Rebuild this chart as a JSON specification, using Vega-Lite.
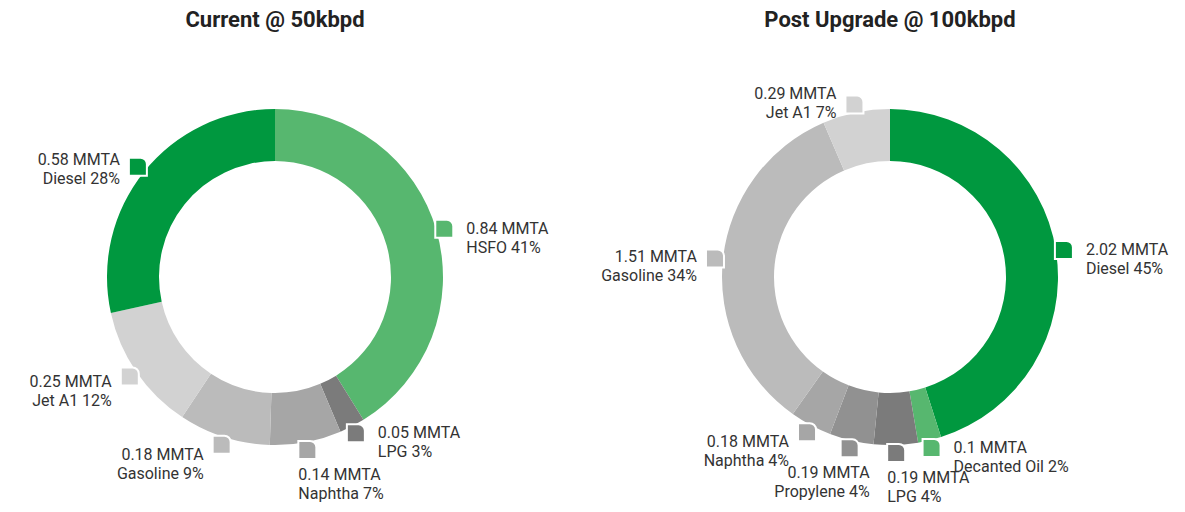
{
  "$schema": "https://vega.github.io/schema/vega-lite/v6.json",
  "padding": {"top": 9, "left": 0, "right": 0, "bottom": 0},
  "bounds": "flush",
  "data": {
    "values": [
      {"chart": "Current @ 50kbpd", "ord": 1, "product": "HSFO", "mmta": 0.84, "pct": 41},
      {"chart": "Current @ 50kbpd", "ord": 2, "product": "LPG", "mmta": 0.05, "pct": 3},
      {"chart": "Current @ 50kbpd", "ord": 3, "product": "Naphtha", "mmta": 0.14, "pct": 7},
      {"chart": "Current @ 50kbpd", "ord": 4, "product": "Gasoline", "mmta": 0.18, "pct": 9},
      {"chart": "Current @ 50kbpd", "ord": 5, "product": "Jet A1", "mmta": 0.25, "pct": 12},
      {"chart": "Current @ 50kbpd", "ord": 6, "product": "Diesel", "mmta": 0.58, "pct": 28},
      {"chart": "Post Upgrade @ 100kbpd", "ord": 1, "product": "Diesel", "mmta": 2.02, "pct": 45},
      {"chart": "Post Upgrade @ 100kbpd", "ord": 2, "product": "Decanted Oil", "mmta": 0.1, "pct": 2},
      {"chart": "Post Upgrade @ 100kbpd", "ord": 3, "product": "LPG", "mmta": 0.19, "pct": 4},
      {"chart": "Post Upgrade @ 100kbpd", "ord": 4, "product": "Propylene", "mmta": 0.19, "pct": 4},
      {"chart": "Post Upgrade @ 100kbpd", "ord": 5, "product": "Naphtha", "mmta": 0.18, "pct": 4},
      {"chart": "Post Upgrade @ 100kbpd", "ord": 6, "product": "Gasoline", "mmta": 1.51, "pct": 34},
      {"chart": "Post Upgrade @ 100kbpd", "ord": 7, "product": "Jet A1", "mmta": 0.29, "pct": 7}
    ]
  },
  "transform": [
    {"window": [{"op": "sum", "field": "mmta", "as": "cum"}], "groupby": ["chart"], "sort": [{"field": "ord"}], "frame": [null, 0]},
    {"joinaggregate": [{"op": "sum", "field": "mmta", "as": "total"}], "groupby": ["chart"]},
    {"calculate": "datum.cum / datum.total", "as": "t1"},
    {"calculate": "(datum.cum - datum.mmta) / datum.total", "as": "t0"},
    {"calculate": "(datum.t0 + datum.t1) / 2", "as": "mid"},
    {"calculate": "sin(2 * PI * datum.mid)", "as": "mx"},
    {"calculate": "cos(2 * PI * datum.mid)", "as": "my"},
    {"calculate": "datum.my * 1.06", "as": "ty"},
    {"calculate": "datum.my - 0.097", "as": "tyb"},
    {"calculate": "datum.mid < 0.465 ? 'R' : (datum.mid <= 0.54 ? (datum.mid < 0.5 ? 'BL' : 'BR') : 'L')", "as": "pos"},
    {"calculate": "[datum.mmta + ' MMTA', datum.product + ' ' + datum.pct + '%']", "as": "lbl"}
  ],
  "facet": {
    "column": {
      "field": "chart",
      "type": "nominal",
      "sort": ["Current @ 50kbpd", "Post Upgrade @ 100kbpd"],
      "header": {"title": null, "labelFontSize": 22, "labelFontWeight": "bold", "labelFont": "Roboto", "labelColor": "#222222", "labelPadding": 10}
    }
  },
  "spacing": 65,
  "spec": {
    "width": 550,
    "height": 470,
    "encoding": {
      "color": {
        "field": "product",
        "type": "nominal",
        "legend": null,
        "scale": {
          "domain": ["HSFO", "Decanted Oil", "Diesel", "LPG", "Propylene", "Naphtha", "Gasoline", "Jet A1"],
          "range": ["#57b76f", "#57b76f", "#00983f", "#7b7b7b", "#919191", "#a6a6a6", "#bbbbbb", "#d2d2d2"]
        }
      }
    },
    "layer": [
      {
        "mark": {"type": "arc", "outerRadius": 168, "innerRadius": 116},
        "encoding": {
          "theta": {"field": "t0", "type": "quantitative", "scale": {"domain": [0, 1], "nice": false, "zero": false}},
          "theta2": {"field": "t1"}
        }
      },
      {
        "mark": {"type": "point", "shape": "M-1,-1L0.3,-1A0.7,0.7 0 0 1 1,-0.3L1,1L-1,1Z", "size": 324, "filled": true, "opacity": 1, "stroke": "white", "strokeWidth": 2, "strokeOpacity": 1},
        "encoding": {
          "x": {"field": "mx", "type": "quantitative", "axis": null, "scale": {"domain": [-1.5625, 1.5625], "nice": false, "zero": false}},
          "y": {"field": "my", "type": "quantitative", "axis": null, "scale": {"domain": [-1.3352, 1.3352], "nice": false, "zero": false}}
        }
      },
      {
        "transform": [{"filter": "datum.pos == 'R'"}],
        "mark": {"type": "text", "align": "left", "baseline": "middle", "dx": 22, "font": "Roboto", "fontSize": 16, "lineHeight": 19},
        "encoding": {
          "x": {"field": "mx", "type": "quantitative"},
          "y": {"field": "my", "type": "quantitative"},
          "text": {"field": "lbl"},
          "color": {"value": "#333333"}
        }
      },
      {
        "transform": [{"filter": "datum.pos == 'L'"}],
        "mark": {"type": "text", "align": "right", "baseline": "middle", "dx": -18, "font": "Roboto", "fontSize": 16, "lineHeight": 19},
        "encoding": {
          "x": {"field": "mx", "type": "quantitative"},
          "y": {"field": "ty", "type": "quantitative"},
          "text": {"field": "lbl"},
          "color": {"value": "#333333"}
        }
      },
      {
        "transform": [{"filter": "datum.pos == 'BL'"}],
        "mark": {"type": "text", "align": "left", "baseline": "top", "dx": -9, "font": "Roboto", "fontSize": 16, "lineHeight": 19},
        "encoding": {
          "x": {"field": "mx", "type": "quantitative"},
          "y": {"field": "tyb", "type": "quantitative"},
          "text": {"field": "lbl"},
          "color": {"value": "#333333"}
        }
      },
      {
        "transform": [{"filter": "datum.pos == 'BR'"}],
        "mark": {"type": "text", "align": "right", "baseline": "top", "dx": 20, "font": "Roboto", "fontSize": 16, "lineHeight": 19},
        "encoding": {
          "x": {"field": "mx", "type": "quantitative"},
          "y": {"field": "tyb", "type": "quantitative"},
          "text": {"field": "lbl"},
          "color": {"value": "#333333"}
        }
      }
    ]
  },
  "config": {
    "view": {"stroke": null},
    "font": "Roboto"
  }
}
